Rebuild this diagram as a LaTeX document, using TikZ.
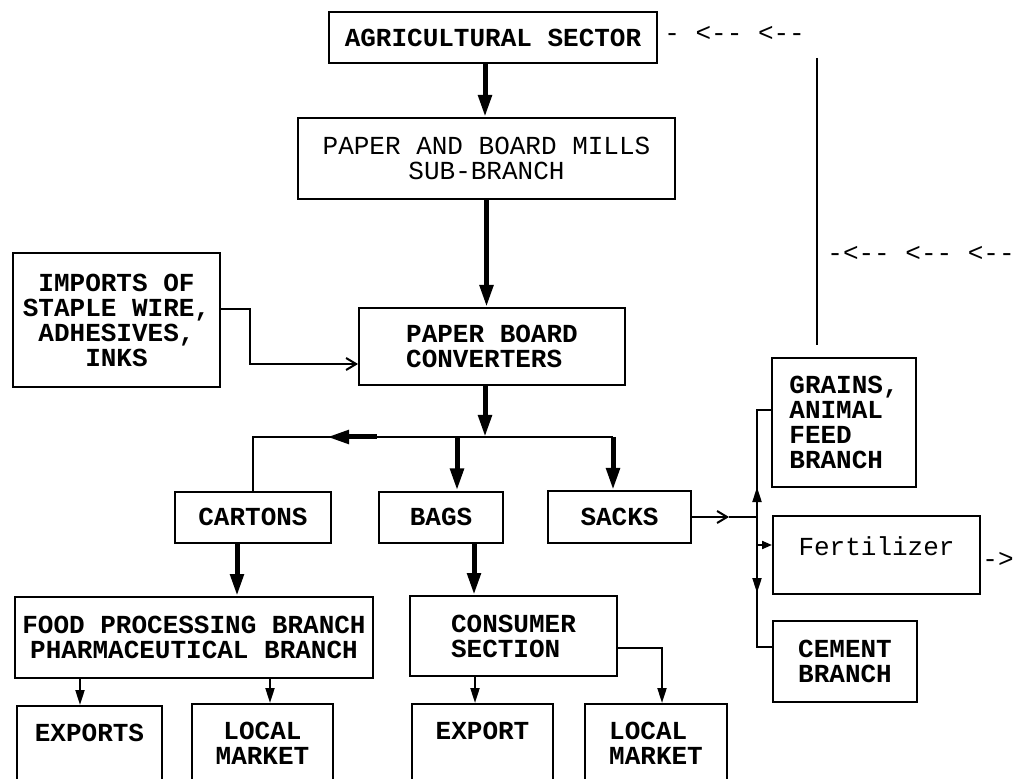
\documentclass[tikz,border=0pt]{standalone}
\usepackage{fontspec}
\usetikzlibrary{arrows.meta}
\newfontfamily\typer{Liberation Mono}
\tikzset{
  box/.style={draw, line width=1pt, inner sep=0pt, align=center,
    font=\typer\bfseries\fontsize{13}{12.5}\selectfont},
  lightface/.style={font=\typer\fontsize{13}{12.5}\selectfont},
  openbox/.style={box, anchor=north, inner ysep=9pt, text depth=40pt},
  flow/.style={line width=2.5pt, -{Triangle[length=11pt,width=6.5pt]}},
  feed/.style={line width=1pt, -{Triangle[length=7.5pt,width=4.5pt]}},
  link/.style={line width=1pt},
  supply/.style={line width=1pt, -{Straight Barb[length=5pt,width=6pt]}},
  typed/.style={lightface, inner sep=0pt}
}
\begin{document}
\begin{tikzpicture}[x=0.5pt,y=-0.5pt]
  \useasboundingbox (0,0) rectangle (1015,779);
  \clip (0,0) rectangle (1015,779);

  % main chain
  \node[box, minimum width=164pt, minimum height=25.5pt] (agri) at (493,37.5) {AGRICULTURAL SECTOR};
  \node[box, lightface, minimum width=188.5pt, minimum height=40.5pt] (mills) at (486.5,158.5) {PAPER AND BOARD MILLS\\SUB-BRANCH};
  \node[box, minimum width=103.5pt, minimum height=67pt] (imports) at (116.5,320) {IMPORTS OF\\STAPLE WIRE,\\ADHESIVES,\\INKS};
  \node[box, align=left, minimum width=133pt, minimum height=38.5pt] (conv) at (492,346.5) {PAPER BOARD\\CONVERTERS};

  \node[box, minimum width=78pt, minimum height=25.5pt] (cartons) at (253,517) {CARTONS};
  \node[box, minimum width=62pt, minimum height=25.5pt] (bags) at (441,517) {BAGS};
  \node[box, minimum width=71.5pt, minimum height=26pt] (sacks) at (619.5,517) {SACKS};

  % users of sacks
  \node[box, align=left, minimum width=72pt, minimum height=64.5pt] (grains) at (844,422.5) {GRAINS,\\ANIMAL\\FEED\\BRANCH};
  \node[box, lightface, text depth=8.5pt, minimum width=103.5pt, minimum height=39pt] (fert) at (876.5,555) {Fertilizer};
  \node[box, minimum width=72pt, minimum height=40.5pt] (cement) at (845,661.5) {CEMENT\\BRANCH};

  % users of cartons and bags
  \node[box, minimum width=179pt, minimum height=40.5pt] (food) at (194,637.5) {FOOD PROCESSING BRANCH\\PHARMACEUTICAL BRANCH};
  \node[box, align=left, minimum width=103.5pt, minimum height=40pt] (consumer) at (513.5,636) {CONSUMER\\SECTION};
  \node[openbox, minimum width=72.5pt] (exports) at (89.5,705) {EXPORTS};
  \node[openbox, minimum width=70.5pt] (localA) at (262.5,703) {LOCAL\\MARKET};
  \node[openbox, minimum width=70.5pt] (export) at (482.5,703) {EXPORT};
  \node[openbox, align=left, minimum width=71pt] (localB) at (656,703) {LOCAL\\MARKET};

  % typed return marks
  \node[typed, anchor=west] (backTop) at (664,34) {- <-{}- <-{}-};
  \node[typed, anchor=west] (backMid) at (827,254) {-<-{}- <-{}- <-{}-};
  \node[typed, anchor=west] (fertOut) at (982,560) {->};

  \coordinate (hub) at (485,437);
  \coordinate (hubR) at (613,437);
  \coordinate (bagsIn) at (457,437);
  \coordinate (cartonTail) at (377,437);
  \coordinate (cartonTip) at (327,437);
  \coordinate (bend) at (250,364);
  \coordinate (feedTop) at (817,58);
  \coordinate (feedBot) at (817,345);
  \coordinate (trunkTop) at (757,410);
  \coordinate (trunkBot) at (757,647);
  \coordinate (sackMark) at (729,517);
  \coordinate (sackJoin) at (757,517);
  \coordinate (upFrom) at (757,513);
  \coordinate (upTo) at (757,487);
  \coordinate (fertJoin) at (757,545);
  \coordinate (downFrom) at (757,568);
  \coordinate (downTo) at (757,593);

  \draw[flow] ([xshift=-4pt]agri.south) -- ([xshift=-4pt]agri.south |- mills.north);
  \draw[flow] (mills.south) -- (mills.south |- conv.north);
  \draw[supply] ([yshift=5.5pt]imports.east) -| (bend) -- ([yshift=-8.75pt]conv.west);
  \draw[flow] (conv.south -| hub) -- (hub);

  \draw[link] (cartons.north) -- (cartons.north |- hub) -- (hubR);
  \draw[line width=2.5pt, -{Triangle[length=11pt,width=6.5pt]}] (cartonTail) -- (cartonTip);
  \draw[flow] (bagsIn) -- (bagsIn |- bags.north);
  \draw[flow] (hubR) -- (hubR |- sacks.north);

  \draw[flow] ([xshift=-8pt]cartons.south) -- ([xshift=-8pt]cartons.south |- food.north);
  \draw[flow] ([xshift=16.5pt]bags.south) -- ([xshift=16.5pt]bags.south |- consumer.north);

  \draw[feed] ([xshift=-4.75pt]exports.north |- food.south) -- ([xshift=-4.75pt]exports.north);
  \draw[feed] ([xshift=3.75pt]localA.north |- food.south) -- ([xshift=3.75pt]localA.north);
  \draw[feed] ([xshift=-3.75pt]export.north |- consumer.south) -- ([xshift=-3.75pt]export.north);
  \draw[feed] ([yshift=-6pt]consumer.east) -| ([xshift=3pt]localB.north);

  % sacks to their users
  \draw[link] (feedTop) -- (feedBot);
  \draw[supply] (sacks.east) -- (sackMark);
  \draw[link] (sackMark) -- (sackJoin);
  \draw[link] (grains.west |- trunkTop) -- (trunkTop) -- (trunkBot) -- (cement.west |- trunkBot);
  \draw[feed] (upFrom) -- (upTo);
  \draw[line width=1pt, -{Triangle[length=5pt,width=4pt]}] (fertJoin) -- (fert.west |- fertJoin);
  \draw[feed] (downFrom) -- (downTo);
\end{tikzpicture}
\end{document}
